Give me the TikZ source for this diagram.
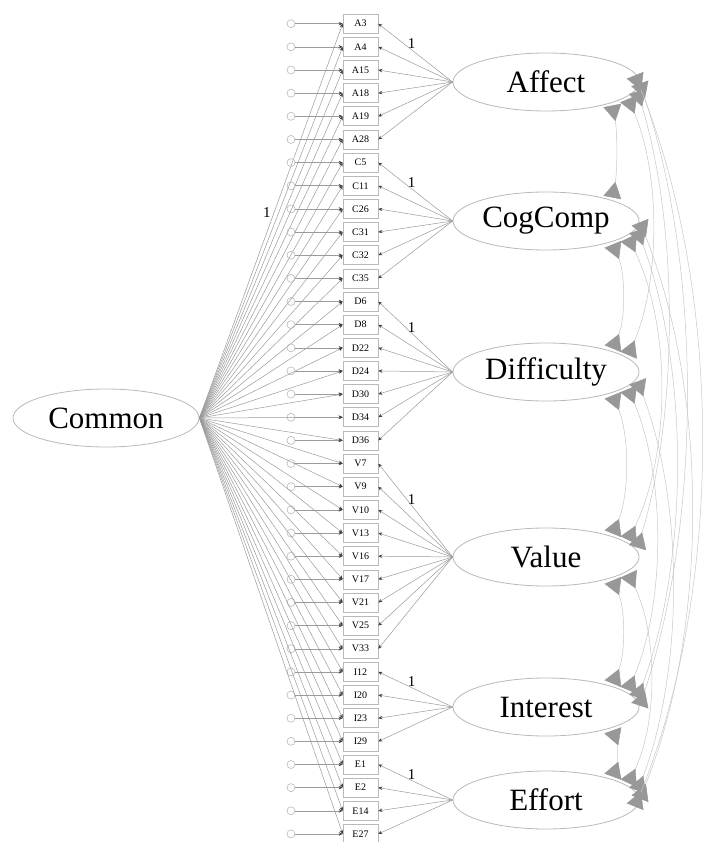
\documentclass[tikz,border=0pt]{standalone}
\usepackage{fontspec}
\setmainfont{Liberation Serif}
\usetikzlibrary{arrows.meta,calc,shapes.geometric}
\definecolor{linegray}{RGB}{155,155,155}
\definecolor{boxgray}{RGB}{185,185,185}
\definecolor{ellgray}{RGB}{185,185,185}
\definecolor{covgray}{RGB}{200,200,200}
\definecolor{tipgray}{RGB}{152,152,152}
\begin{document}
\begin{tikzpicture}[x=1pt,y=1pt,
  latent/.style={ellipse, draw=ellgray, line width=0.8pt, minimum width=186pt, minimum height=58pt, inner sep=0pt, font=\fontsize{31}{31}\selectfont},
  item/.style={draw=boxgray, line width=0.6pt, minimum width=35pt, minimum height=19pt, inner sep=0pt, font=\fontsize{10}{10}\selectfont},
  err/.style={circle, draw=boxgray, line width=0.6pt, minimum size=8pt, inner sep=0pt},
  load/.style={draw=linegray, line width=0.5pt, -{Stealth[length=4pt,width=3.5pt,color=black!75]}},
  cov/.style={draw=covgray, line width=0.5pt, {Triangle[reversed,length=16pt,width=18pt,color=tipgray]}-{Triangle[reversed,length=16pt,width=18pt,color=tipgray]}, shorten <=3pt, shorten >=3pt},
  one/.style={font=\fontsize{15}{15}\selectfont, inner sep=0pt}
]
\useasboundingbox[fill=white] (0,0) rectangle (704,-842);

% latent variables
\node[latent] (G)  at (106,-418) {Common};
\node[latent] (FA) at (546,-82)  {Affect};
\node[latent] (FC) at (546,-221) {CogComp};
\node[latent] (FD) at (546,-372) {Difficulty};
\node[latent] (FV) at (546,-557) {Value};
\node[latent] (FI) at (546,-707) {Interest};
\node[latent] (FE) at (546,-800) {Effort};

% observed items and error terms
\foreach \n [count=\k from 0] in {A3,A4,A15,A18,A19,A28,C5,C11,C26,C31,C32,C35,D6,D8,D22,D24,D30,D34,D36,V7,V9,V10,V13,V16,V17,V21,V25,V33,I12,I20,I23,I29,E1,E2,E14,E27}{
  \node[item] (\n) at (360.5,{-23.7-23.15*\k}) {\n};
  \node[err] (e\n) at (291,{-23.7-23.15*\k}) {};
  \draw[load] (e\n) -- (\n.west);
  \draw[load] (G.east) -- (\n.west);
}

% specific factor loadings
\foreach \n in {A3,A4,A15,A18,A19,A28} \draw[load] (FA.west) -- (\n.east);
\foreach \n in {C5,C11,C26,C31,C32,C35} \draw[load] (FC.west) -- (\n.east);
\foreach \n in {D6,D8,D22,D24,D30,D34,D36} \draw[load] (FD.west) -- (\n.east);
\foreach \n in {V7,V9,V10,V13,V16,V17,V21,V25,V33} \draw[load] (FV.west) -- (\n.east);
\foreach \n in {I12,I20,I23,I29} \draw[load] (FI.west) -- (\n.east);
\foreach \n in {E1,E2,E14,E27} \draw[load] (FE.west) -- (\n.east);

% fixed loadings
\path (G.east) -- node[pos=0.52,left=3pt,one] {1} (A3.west);
\path (FA.west) -- node[pos=0.55,above=1pt,one] {1} (A3.east);
\path (FC.west) -- node[pos=0.55,above=1pt,one] {1} (C5.east);
\path (FD.west) -- node[pos=0.55,above=1pt,one] {1} (D6.east);
\path (FV.west) -- node[pos=0.55,above=1pt,one] {1} (V7.east);
\path (FI.west) -- node[pos=0.55,above=1pt,one] {1} (I12.east);
\path (FE.west) -- node[pos=0.55,above=1pt,one] {1} (E1.east);

% covariance end points
\foreach \f in {FA,FC,FD,FV,FI,FE}{
  \foreach \s/\t in {1/45,2/29,3/13,4/-3,5/-19}{
    \coordinate (\f u\s) at ($(\f.center)+({93*cos(\t)},{29*sin(\t)})$);
    \coordinate (\f d\s) at ($(\f.center)+({93*cos(\t)},{-29*sin(\t)})$);
  }
}

% covariances
\draw[cov] (FAd1) .. controls (617.4,-131.9) and (617.4,-171.1) .. (FCu1);
\draw[cov] (FCd1) .. controls (625.4,-274.5) and (625.4,-318.5) .. (FDu1);
\draw[cov] (FDd1) .. controls (629.4,-435.7) and (629.4,-493.3) .. (FVu1);
\draw[cov] (FVd1) .. controls (625.4,-610.2) and (625.4,-653.8) .. (FIu1);
\draw[cov] (FId1) .. controls (617.4,-743.1) and (617.4,-763.9) .. (FEu1);
\draw[cov] (FAd2) .. controls (660.3,-174.6) and (660.3,-279.4) .. (FDu2);
\draw[cov] (FCd2) .. controls (670.9,-327.4) and (670.9,-450.6) .. (FVu2);
\draw[cov] (FDd2) .. controls (665.6,-478.1) and (665.6,-600.9) .. (FIu2);
\draw[cov] (FVd2) .. controls (657.6,-635.5) and (657.6,-721.5) .. (FEu2);
\draw[cov] (FAd3) .. controls (678.5,-227.1) and (678.5,-411.9) .. (FVu3);
\draw[cov] (FCd3) .. controls (689.1,-369.4) and (689.1,-558.6) .. (FIu3);
\draw[cov] (FDd3) .. controls (683.8,-503.0) and (683.8,-669.0) .. (FEu3);
\draw[cov] (FAd4) .. controls (701.7,-268.9) and (701.7,-520.1) .. (FIu4);
\draw[cov] (FCd4) .. controls (708.4,-394.1) and (708.4,-626.9) .. (FEu4);
\draw[cov] (FAd5) .. controls (723.3,-293.6) and (723.3,-588.4) .. (FEu5);
\end{tikzpicture}
\end{document}
